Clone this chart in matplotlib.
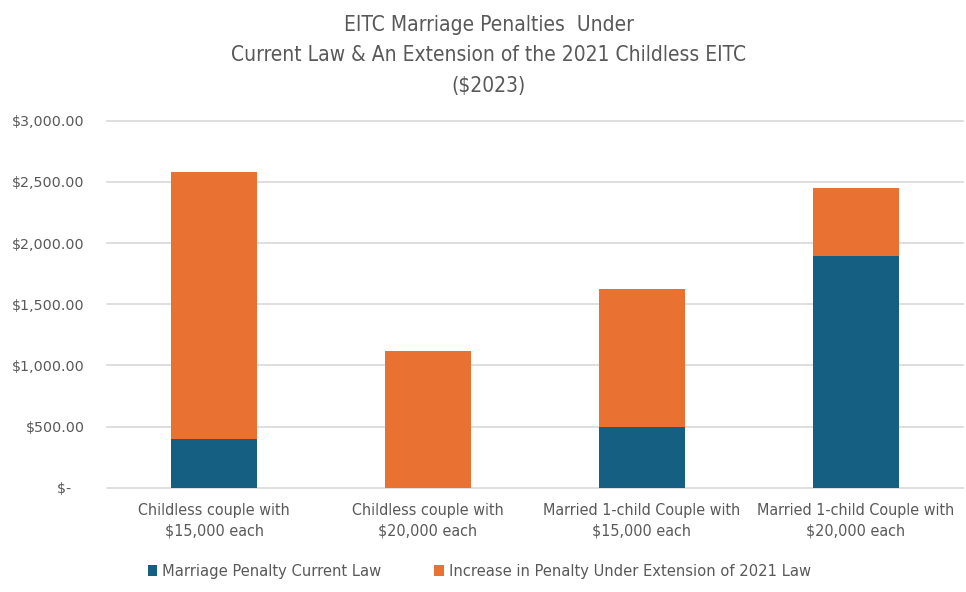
import matplotlib
matplotlib.use("Agg")
import matplotlib.pyplot as plt
from matplotlib.ticker import FuncFormatter

categories = [
    "Childless couple with\n$15,000 each",
    "Childless couple with\n$20,000 each",
    "Married 1-child Couple with\n$15,000 each",
    "Married 1-child Couple with\n$20,000 each",
]
current_law = [398, 0, 494, 1895]
extension_increase = [2183, 1117, 1134, 555]
series_names = ["Marriage Penalty Current Law",
                "Increase in Penalty Under Extension of 2021 Law"]
y_ticks = [0, 500, 1000, 1500, 2000, 2500, 3000]

BLUE = "#156082"
ORANGE = "#e97132"
GRAY = "#595959"
COND = dict(family="DejaVu Sans", stretch="condensed")


def money(v, pos):
    if v == 0:
        return "$-   "
    return f"${v:,.2f}"


fig = plt.figure(figsize=(9.66, 5.92), dpi=100)
ax = fig.add_axes([0.1108, 0.176, 0.886, 0.62])

x = range(len(categories))
ax.bar(x, current_law, width=0.4, color=BLUE, label=series_names[0], zorder=3)
ax.bar(x, extension_increase, width=0.4, bottom=current_law, color=ORANGE,
       label=series_names[1], zorder=3)

ax.set_xlim(-0.5, 3.5)
ax.set_ylim(0, 3000)
ax.set_yticks(y_ticks)
ax.yaxis.set_major_formatter(FuncFormatter(money))
ax.grid(axis="y", color="#d9d9d9", linewidth=1.2, zorder=0)
for g in ax.get_ygridlines():
    g.set_clip_on(False)
for s in ax.spines.values():
    s.set_visible(False)
ax.tick_params(length=0)
ax.tick_params(axis="y", labelsize=10.3, labelcolor=GRAY, pad=16)
ax.set_xticks(list(x))
ax.set_xticklabels(categories, fontsize=11.5, color=GRAY, linespacing=1.45, **COND)
ax.tick_params(axis="x", pad=11)

fig.text(0.506, 0.975,
         "EITC Marriage Penalties  Under\nCurrent Law & An Extension of the 2021 Childless EITC\n($2023)",
         ha="center", va="top", fontsize=15, color=GRAY, linespacing=1.65, **COND)

leg = fig.legend(loc="center", bbox_to_anchor=(0.496, 0.034), ncol=2, frameon=False,
                 handlelength=0.6, handleheight=0.6,
                 handletextpad=0.3, columnspacing=3.2,
                 prop=dict(size=11.8, **COND))
for t in leg.get_texts():
    t.set_color(GRAY)

fig.savefig("out.png", dpi=100)
